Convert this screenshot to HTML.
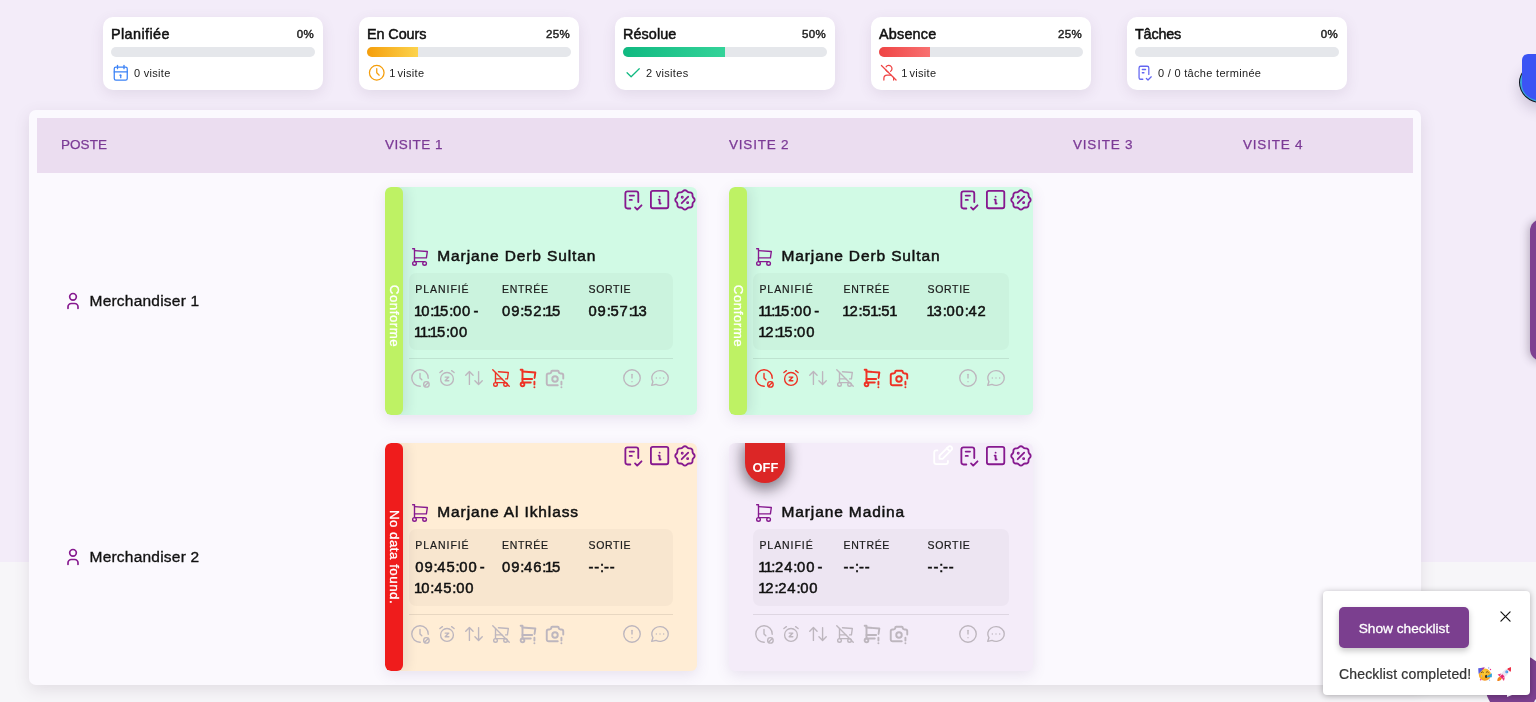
<!DOCTYPE html>
<html lang="fr">
<head>
<meta charset="utf-8">
<title>Visites</title>
<style>
*{box-sizing:border-box;margin:0;padding:0}
html,body{width:1536px;height:702px;overflow:hidden}
body{font-family:"Liberation Sans",sans-serif;background:#f3ecf9;position:relative;color:#111;will-change:transform}
.abs{position:absolute}
.bottombg{position:absolute;left:0;top:562px;width:1536px;height:140px;background:#f7f6f9}
/* stat cards */
.stat{position:absolute;top:17px;width:220px;height:73px;background:#fff;border-radius:10px;box-shadow:0 4px 14px rgba(95,65,100,.11)}
.stat .t{position:absolute;left:8px;top:9.1px;font-size:14.4px;font-weight:400;-webkit-text-stroke:.5px #111;color:#111;letter-spacing:.12px;line-height:17px;white-space:nowrap}
.stat .p{position:absolute;right:9px;top:10px;font-size:11.5px;font-weight:400;-webkit-text-stroke:.45px #222;color:#222;line-height:15px;letter-spacing:.3px}
.stat .bar{position:absolute;left:8px;top:30px;width:204px;height:10px;border-radius:5px;background:#e5e7eb;overflow:hidden}
.stat .bar i{display:block;height:100%}
.stat .l b{font-weight:400;letter-spacing:-1.3px;margin-left:-.7px}
.stat .ic{position:absolute;left:7.8px;top:45.7px;width:19.5px;height:19.5px}
.stat .ic svg{width:19.5px;height:19.5px;stroke-width:1.55}
.stat .l{position:absolute;left:31px;top:49px;font-size:11px;color:#222;line-height:14px;letter-spacing:.3px;white-space:nowrap}
svg{display:block;fill:none;stroke:currentColor;stroke-width:1.6;stroke-linecap:round;stroke-linejoin:round}
/* panel */
.panel{position:absolute;left:29px;top:110px;width:1392px;height:575px;background:#fbf9fe;border-radius:7px;box-shadow:0 5px 16px rgba(85,60,85,.13)}
.thead{position:absolute;left:37px;top:118px;width:1376px;height:55px;background:#ebddf0}
.th{position:absolute;top:137px;font-size:13.5px;letter-spacing:1.1px;color:#7b3a96;-webkit-text-stroke:.25px #7b3a96;line-height:16px;white-space:nowrap}
.poste{position:absolute;left:63px;height:20px;display:flex;align-items:center;font-size:15.5px;color:#111;letter-spacing:.22px;white-space:nowrap}
.poste svg{width:20px;height:20px;color:#86198f;margin-right:6.5px;stroke-width:2}
.poste span{font-weight:400;-webkit-text-stroke:.33px #111}
/* visit card */
.vc{position:absolute;height:228px;border-radius:6px;box-shadow:0 4px 14px rgba(100,70,130,.13);overflow:hidden}
.vc .stripe{position:absolute;left:0;top:0;width:18px;height:100%;border-radius:6px;box-shadow:3px 0 13px rgba(40,40,60,.11)}
.vc .stripe span{position:absolute;left:9.1px;top:50%;transform:translate(-50%,-50%) rotate(90deg);white-space:nowrap;color:#fff;font-size:13.3px;font-weight:400;-webkit-text-stroke:.32px #fff;letter-spacing:.5px}
.vc .top{position:absolute;top:0;right:0;width:110px;height:28px;color:#86198f}
.vc .top svg{position:absolute}
.vc .name{position:absolute;top:59.6px;font-size:15.5px;font-weight:400;-webkit-text-stroke:.52px #111;color:#111;line-height:20px;white-space:nowrap;letter-spacing:.88px}
.vc .cart{position:absolute;top:59px;width:22px;height:22px;color:#86198f}
.vc .cart svg{width:22px;height:22px;stroke-width:1.5}
.vc .box{position:absolute;top:86px;height:77px;border-radius:7px;background:rgba(0,0,0,.027)}
.vc .lab{position:absolute;top:96px;font-size:10.5px;letter-spacing:.95px;color:#1a1a1a;line-height:12px;-webkit-text-stroke:.2px #1a1a1a;white-space:nowrap}
.vc .val{position:absolute;top:114px;font-size:14.8px;font-weight:400;-webkit-text-stroke:.5px #111;color:#111;line-height:21px;white-space:nowrap;letter-spacing:.86px}
.vc .val s{text-decoration:none;letter-spacing:-1.9px}
.vc .val b{font-weight:400;letter-spacing:-1.1px;margin-left:-1.2px}
.vc .val i{font-style:normal;letter-spacing:-.31px}
.vc .hr{position:absolute;top:171px;height:1px;background:rgba(0,0,0,.09)}
.vc .acts{position:absolute;top:180px;display:flex;gap:5px;color:#bdb6be}
.vc .acts svg{width:22px;height:22px;stroke-width:1.5}
.vc .acts2{position:absolute;top:180px;display:flex;gap:6px;color:#bdb6be}
.vc .acts2 svg{width:22px;height:22px;stroke-width:1.5}
.red{color:#ee3124}

.off{position:absolute;left:16px;top:0;width:40px;height:40px;background:#dc2626;border-radius:0 0 20px 20px;color:#fff;font-size:12.9px;font-weight:700;text-align:center;line-height:14px;padding-top:18.3px;padding-left:.8px;box-shadow:0 4px 14px 3px rgba(10,5,15,.46)}
.blob2{position:absolute;left:1519px;top:62px;width:44px;height:41px;border-radius:50%;background:#3aa6d8;border:1.6px solid #10131c;box-shadow:0 6px 14px rgba(60,40,90,.22)}
.blob{position:absolute;left:1522px;top:54px;width:30px;height:46px;border-radius:6px 0 0 16px;background:#3b54f4;z-index:2}
.sidetab{position:absolute;left:1530px;top:218.5px;width:24px;height:142.5px;border-radius:12px;background:#7e4191;box-shadow:-2px 1px 8px rgba(60,40,70,.30)}
.fab{position:absolute;left:1484.5px;top:654px;width:62px;height:62px;border-radius:50%;background:#7d4090}
.corner{position:absolute;left:1533.5px;top:697.5px;width:6px;height:8px;background:#f1edf5;border-radius:5px 0 0 0}
.sliver{position:absolute;left:1506.5px;top:694.5px;width:0;height:0;border-left:0 solid transparent;border-right:5px solid transparent;border-top:2.6px solid #ece8f0;z-index:1}
.pop{position:absolute;left:1323px;top:591px;width:207px;height:104px;background:#fff;border-radius:4px;box-shadow:0 1px 6px rgba(0,0,0,.30)}
.pop .btn{position:absolute;left:16px;top:16px;width:130px;height:41px;border-radius:5px;background:#7b3f8f;color:#fff;font-size:13.7px;-webkit-text-stroke:.3px #fff;line-height:43px;text-align:center;box-shadow:0 3px 6px rgba(0,0,0,.22)}
.pop .x{position:absolute;left:177px;top:20px;width:11px;height:11px;color:#111;stroke-width:1.3}
.pop .done{position:absolute;left:16px;top:75px;font-size:14px;color:#333;-webkit-text-stroke:.22px #333;line-height:16px;white-space:nowrap;letter-spacing:.16px}
.pop .em1{position:absolute;left:155px;top:75.8px;width:14.2px;height:14.2px}
.pop .em2{position:absolute;left:173.8px;top:75.8px;width:14.2px;height:14.2px}
</style>
</head>
<body>

<svg width="0" height="0" style="position:absolute"><defs>
<symbol id="i-checklist" viewBox="0 0 24 24"><path d="M9.615 20h-2.615a2 2 0 0 1 -2 -2v-12a2 2 0 0 1 2 -2h8a2 2 0 0 1 2 2v8"/><path d="M14 19l2 2l4 -4"/><path d="M9 8h4"/><path d="M9 12h2"/></symbol>
<symbol id="i-info" viewBox="0 0 24 24"><path d="M12 9h.01"/><path d="M3 5a2 2 0 0 1 2 -2h14a2 2 0 0 1 2 2v14a2 2 0 0 1 -2 2h-14a2 2 0 0 1 -2 -2v-14z"/><path d="M11 12h1v4h1"/></symbol>
<symbol id="i-rosette" viewBox="0 0 24 24"><path d="M9 15l6 -6"/><circle cx="9.5" cy="9.5" r=".5" fill="currentColor"/><circle cx="14.5" cy="14.5" r=".5" fill="currentColor"/><path d="M5 7.2a2.2 2.2 0 0 1 2.2 -2.2h1a2.2 2.2 0 0 0 1.55 -.64l.7 -.7a2.2 2.2 0 0 1 3.12 0l.7 .7a2.2 2.2 0 0 0 1.55 .64h1a2.2 2.2 0 0 1 2.2 2.2v1a2.2 2.2 0 0 0 .64 1.55l.7 .7a2.2 2.2 0 0 1 0 3.12l-.7 .7a2.2 2.2 0 0 0 -.64 1.55v1a2.2 2.2 0 0 1 -2.2 2.2h-1a2.2 2.2 0 0 0 -1.55 .64l-.7 .7a2.2 2.2 0 0 1 -3.12 0l-.7 -.7a2.2 2.2 0 0 0 -1.55 -.64h-1a2.2 2.2 0 0 1 -2.2 -2.2v-1a2.2 2.2 0 0 0 -.64 -1.55l-.7 -.7a2.2 2.2 0 0 1 0 -3.12l.7 -.7a2.2 2.2 0 0 0 .64 -1.55v-1"/></symbol>
<symbol id="i-cart" viewBox="0 0 24 24"><circle cx="6" cy="19" r="2"/><circle cx="17" cy="19" r="2"/><path d="M17 17h-11v-14h-2"/><path d="M6 5l14 1l-1 7h-13"/></symbol>
<symbol id="i-clockcancel" viewBox="0 0 24 24"><path d="M20.997 12.25a9 9 0 1 0 -8.718 8.745"/><circle cx="19" cy="19" r="3"/><path d="M17 21l4 -4"/><path d="M12 7v5l2 2"/></symbol>
<symbol id="i-snooze" viewBox="0 0 24 24"><circle cx="12" cy="13" r="7"/><path d="M10 11h4l-4 4h4"/><path d="M7 4l-2.75 2"/><path d="M17 4l2.75 2"/></symbol>
<symbol id="i-updown" viewBox="0 0 24 24"><path d="M3 9l4 -4l4 4m-4 -4v14"/><path d="M21 15l-4 4l-4 -4m4 4v-14"/></symbol>
<symbol id="i-cartoff" viewBox="0 0 24 24"><circle cx="6" cy="19" r="2"/><circle cx="17" cy="19" r="2"/><path d="M17 17h-11v-11"/><path d="M9.239 5.231l10.761 .769l-1 7h-2m-4 0h-7"/><path d="M3 3l18 18"/></symbol>
<symbol id="i-cartex" viewBox="0 0 24 24"><circle cx="6" cy="19" r="2"/><path d="M15 17h-9v-14h-2"/><path d="M6 5l14 1l-.854 5.976m-2.646 1.024h-10.5"/><path d="M19 16v3"/><path d="M19 22v.01"/></symbol>
<symbol id="i-camex" viewBox="0 0 24 24"><path d="M15 20h-10a2 2 0 0 1 -2 -2v-9a2 2 0 0 1 2 -2h1a2 2 0 0 0 2 -2a1 1 0 0 1 1 -1h6a1 1 0 0 1 1 1a2 2 0 0 0 2 2h1a2 2 0 0 1 2 2v3.5"/><circle cx="12" cy="13" r="3"/><path d="M19 16v3"/><path d="M19 22v.01"/></symbol>
<symbol id="i-excl" viewBox="0 0 24 24"><circle cx="12" cy="12" r="9"/><path d="M12 8v4"/><path d="M12 16v.01"/></symbol>
<symbol id="i-msg" viewBox="0 0 24 24"><path d="M3 20l1.3 -3.9c-2.324 -3.437 -1.426 -7.872 2.1 -10.374c3.526 -2.501 8.59 -2.296 11.845 .48c3.255 2.777 3.695 7.266 1.029 10.501c-2.666 3.235 -7.615 4.215 -11.574 2.293l-4.7 1"/><path d="M12 12v.01"/><path d="M8 12v.01"/><path d="M16 12v.01"/></symbol>
<symbol id="i-edit" viewBox="0 0 24 24"><path d="M7 7h-1a2 2 0 0 0 -2 2v9a2 2 0 0 0 2 2h9a2 2 0 0 0 2 -2v-1"/><path d="M20.385 6.585a2.1 2.1 0 0 0 -2.97 -2.97l-8.415 8.385v3h3l8.385 -8.415z"/><path d="M16 5l3 3"/></symbol>
<symbol id="i-user" viewBox="0 0 24 24"><circle cx="12" cy="7" r="4"/><path d="M6 21v-2a4 4 0 0 1 4 -4h4a4 4 0 0 1 4 4v2"/></symbol>
<symbol id="i-cal" viewBox="0 0 24 24"><path d="M4 7a2 2 0 0 1 2 -2h12a2 2 0 0 1 2 2v12a2 2 0 0 1 -2 2h-12a2 2 0 0 1 -2 -2z"/><path d="M16 3v4"/><path d="M8 3v4"/><path d="M4 11h16"/><path d="M11 15h1"/><path d="M12 15v3"/></symbol>
<symbol id="i-clock" viewBox="0 0 24 24"><circle cx="12" cy="12" r="9"/><path d="M12 7v5l3 3"/></symbol>
<symbol id="i-check" viewBox="0 0 24 24"><path d="M5 12l5 5l10 -10"/></symbol>
<symbol id="i-useroff" viewBox="0 0 24 24"><path d="M8.18 8.189a4.01 4.01 0 0 0 2.616 2.627m3.507 -.545a4 4 0 1 0 -5.59 -5.552"/><path d="M6 21v-2a4 4 0 0 1 4 -4h4c.412 0 .81 .062 1.183 .178m2.633 2.618c.12 .38 .184 .785 .184 1.204v2"/><path d="M3 3l18 18"/></symbol>
</defs></svg>
<div class="bottombg"></div>
<div class="stat" style="left:103px"><div class="t" style="letter-spacing:0.4px">Planifiée</div><div class="p">0%</div><div class="bar"></div><div class="ic" style="color:#3b82f6"><svg viewBox="0 0 24 24"><use href="#i-cal"/></svg></div><div class="l">0 visite</div></div>
<div class="stat" style="left:359px"><div class="t" style="letter-spacing:-0.08px">En Cours</div><div class="p">25%</div><div class="bar"><i style="width:25%;background:linear-gradient(90deg,#f59e0b,#fcd34d)"></i></div><div class="ic" style="color:#f59e0b"><svg viewBox="0 0 24 24"><use href="#i-clock"/></svg></div><div class="l"><b>1</b> visite</div></div>
<div class="stat" style="left:615px"><div class="t" style="letter-spacing:0.08px">Résolue</div><div class="p">50%</div><div class="bar"><i style="width:50%;background:linear-gradient(90deg,#10b981,#34d399)"></i></div><div class="ic" style="color:#10b981"><svg viewBox="0 0 24 24"><use href="#i-check"/></svg></div><div class="l">2 visites</div></div>
<div class="stat" style="left:871px"><div class="t" style="letter-spacing:0.2px">Absence</div><div class="p">25%</div><div class="bar"><i style="width:25%;background:linear-gradient(90deg,#ef4444,#f87171)"></i></div><div class="ic" style="color:#ef4444"><svg viewBox="0 0 24 24"><use href="#i-useroff"/></svg></div><div class="l"><b>1</b> visite</div></div>
<div class="stat" style="left:1127px"><div class="t" style="letter-spacing:-0.2px">Tâches</div><div class="p">0%</div><div class="bar"></div><div class="ic" style="color:#6366f1"><svg viewBox="0 0 24 24"><use href="#i-checklist"/></svg></div><div class="l">0 / 0 tâche terminée</div></div>
<div class="blob"></div><div class="blob2"></div>
<div class="sidetab"></div>
<div class="panel"></div><div class="thead"></div>
<div class="th" style="left:61px;letter-spacing:0.05px">POSTE</div>
<div class="th" style="left:385px;letter-spacing:0.5px">VISITE 1</div>
<div class="th" style="left:729px;letter-spacing:0.8px">VISITE 2</div>
<div class="th" style="left:1073px;letter-spacing:0.8px">VISITE 3</div>
<div class="th" style="left:1243px;letter-spacing:0.8px">VISITE 4</div>
<div class="poste" style="top:291px"><svg viewBox="0 0 24 24"><use href="#i-user"/></svg><span>Merchandiser 1</span></div>
<div class="poste" style="top:547px"><svg viewBox="0 0 24 24"><use href="#i-user"/></svg><span>Merchandiser 2</span></div>
<div class="vc" style="left:384.8px;top:186.8px;width:312.2px;background:#d1fae5"><div class="stripe" style="background:#bef264"><span style="margin-top:15.5px;">Conforme</span></div><div class="top"><svg style="right:51px;top:-.15px;width:25.8px;height:25.8px;stroke-width:1.7" viewBox="0 0 24 24"><use href="#i-checklist"/></svg><svg style="right:26.1px;top:1.6px;width:23.2px;height:23.2px;stroke-width:1.9" viewBox="0 0 24 24"><use href="#i-info"/></svg><svg style="right:-.8px;top:-.05px;width:25.9px;height:25.9px;stroke-width:1.7" viewBox="0 0 24 24"><use href="#i-rosette"/></svg></div><div class="cart" style="left:24px"><svg viewBox="0 0 24 24"><use href="#i-cart"/></svg></div><div class="name" style="left:52.5px">Marjane Derb Sultan</div><div class="box" style="left:24px;width:264px"></div><div class="lab" style="left:30.5px">PLANIFIÉ</div><div class="val" style="left:30.5px"><b>1</b>0<i>:</i><b>1</b>5<i>:</i>00<s> -</s><br><b>1</b><b>1</b><i>:</i><b>1</b>5<i>:</i>00</div><div class="lab" style="left:117.3px;letter-spacing:.64px">ENTRÉE</div><div class="val" style="left:117.3px">09<i>:</i>52<i>:</i><b>1</b>5</div><div class="lab" style="left:203.7px;letter-spacing:.64px">SORTIE</div><div class="val" style="left:203.7px">09<i>:</i>57<i>:</i><b>1</b>3</div><div class="hr" style="left:24px;width:264px"></div><div class="acts" style="left:24px"><svg viewBox="0 0 24 24"><use href="#i-clockcancel"/></svg><svg viewBox="0 0 24 24"><use href="#i-snooze"/></svg><svg viewBox="0 0 24 24"><use href="#i-updown"/></svg><svg class="red" viewBox="0 0 24 24"><use href="#i-cartoff"/></svg><svg class="red" style="stroke-width:2.1" viewBox="0 0 24 24"><use href="#i-cartex"/></svg><svg style="stroke-width:2.1" viewBox="0 0 24 24"><use href="#i-camex"/></svg></div><div class="acts2" style="left:236px"><svg viewBox="0 0 24 24"><use href="#i-excl"/></svg><svg viewBox="0 0 24 24"><use href="#i-msg"/></svg></div></div>
<div class="vc" style="left:729px;top:186.8px;width:304px;background:#d1fae5"><div class="stripe" style="background:#bef264"><span style="margin-top:15.5px;">Conforme</span></div><div class="top"><svg style="right:51px;top:-.15px;width:25.8px;height:25.8px;stroke-width:1.7" viewBox="0 0 24 24"><use href="#i-checklist"/></svg><svg style="right:26.1px;top:1.6px;width:23.2px;height:23.2px;stroke-width:1.9" viewBox="0 0 24 24"><use href="#i-info"/></svg><svg style="right:-.8px;top:-.05px;width:25.9px;height:25.9px;stroke-width:1.7" viewBox="0 0 24 24"><use href="#i-rosette"/></svg></div><div class="cart" style="left:24px"><svg viewBox="0 0 24 24"><use href="#i-cart"/></svg></div><div class="name" style="left:52.5px">Marjane Derb Sultan</div><div class="box" style="left:24px;width:256px"></div><div class="lab" style="left:30.4px">PLANIFIÉ</div><div class="val" style="left:30.4px"><b>1</b><b>1</b><i>:</i><b>1</b>5<i>:</i>00<s> -</s><br><b>1</b>2<i>:</i><b>1</b>5<i>:</i>00</div><div class="lab" style="left:114.5px;letter-spacing:.64px">ENTRÉE</div><div class="val" style="left:114.5px"><b>1</b>2<i>:</i>5<b>1</b><i>:</i>5<b>1</b></div><div class="lab" style="left:198.6px;letter-spacing:.64px">SORTIE</div><div class="val" style="left:198.6px"><b>1</b>3<i>:</i>00<i>:</i>42</div><div class="hr" style="left:24px;width:256px"></div><div class="acts" style="left:24px"><svg class="red" viewBox="0 0 24 24"><use href="#i-clockcancel"/></svg><svg class="red" viewBox="0 0 24 24"><use href="#i-snooze"/></svg><svg viewBox="0 0 24 24"><use href="#i-updown"/></svg><svg viewBox="0 0 24 24"><use href="#i-cartoff"/></svg><svg class="red" style="stroke-width:2.1" viewBox="0 0 24 24"><use href="#i-cartex"/></svg><svg class="red" style="stroke-width:2.1" viewBox="0 0 24 24"><use href="#i-camex"/></svg></div><div class="acts2" style="left:228px"><svg viewBox="0 0 24 24"><use href="#i-excl"/></svg><svg viewBox="0 0 24 24"><use href="#i-msg"/></svg></div></div>
<div class="vc" style="left:384.8px;top:442.8px;width:312.2px;background:#ffedd5"><div class="stripe" style="background:#ef1c1c"><span style="">No data found.</span></div><div class="top"><svg style="right:51px;top:-.15px;width:25.8px;height:25.8px;stroke-width:1.7" viewBox="0 0 24 24"><use href="#i-checklist"/></svg><svg style="right:26.1px;top:1.6px;width:23.2px;height:23.2px;stroke-width:1.9" viewBox="0 0 24 24"><use href="#i-info"/></svg><svg style="right:-.8px;top:-.05px;width:25.9px;height:25.9px;stroke-width:1.7" viewBox="0 0 24 24"><use href="#i-rosette"/></svg></div><div class="cart" style="left:24px"><svg viewBox="0 0 24 24"><use href="#i-cart"/></svg></div><div class="name" style="left:52.5px">Marjane Al Ikhlass</div><div class="box" style="left:24px;width:264px"></div><div class="lab" style="left:30.5px">PLANIFIÉ</div><div class="val" style="left:30.5px">09<i>:</i>45<i>:</i>00<s> -</s><br><b>1</b>0<i>:</i>45<i>:</i>00</div><div class="lab" style="left:117.3px;letter-spacing:.64px">ENTRÉE</div><div class="val" style="left:117.3px">09<i>:</i>46<i>:</i><b>1</b>5</div><div class="lab" style="left:203.7px;letter-spacing:.64px">SORTIE</div><div class="val" style="left:203.7px">--<i>:</i>--</div><div class="hr" style="left:24px;width:264px"></div><div class="acts" style="left:24px"><svg viewBox="0 0 24 24"><use href="#i-clockcancel"/></svg><svg viewBox="0 0 24 24"><use href="#i-snooze"/></svg><svg viewBox="0 0 24 24"><use href="#i-updown"/></svg><svg viewBox="0 0 24 24"><use href="#i-cartoff"/></svg><svg style="stroke-width:2.1" viewBox="0 0 24 24"><use href="#i-cartex"/></svg><svg style="stroke-width:2.1" viewBox="0 0 24 24"><use href="#i-camex"/></svg></div><div class="acts2" style="left:236px"><svg viewBox="0 0 24 24"><use href="#i-excl"/></svg><svg viewBox="0 0 24 24"><use href="#i-msg"/></svg></div></div>
<div class="vc" style="left:729px;top:442.8px;width:304px;background:#f4ecf9"><div class="off">OFF</div><div class="top"><svg style="color:#fff;right:77.6px;top:.5px;width:25.3px;height:25.3px;stroke-width:1.75" viewBox="0 0 24 24"><use href="#i-edit"/></svg><svg style="right:51px;top:-.15px;width:25.8px;height:25.8px;stroke-width:1.7" viewBox="0 0 24 24"><use href="#i-checklist"/></svg><svg style="right:26.1px;top:1.6px;width:23.2px;height:23.2px;stroke-width:1.9" viewBox="0 0 24 24"><use href="#i-info"/></svg><svg style="right:-.8px;top:-.05px;width:25.9px;height:25.9px;stroke-width:1.7" viewBox="0 0 24 24"><use href="#i-rosette"/></svg></div><div class="cart" style="left:24px"><svg viewBox="0 0 24 24"><use href="#i-cart"/></svg></div><div class="name" style="left:52.5px">Marjane Madina</div><div class="box" style="left:24px;width:256px"></div><div class="lab" style="left:30.4px">PLANIFIÉ</div><div class="val" style="left:30.4px"><b>1</b><b>1</b><i>:</i>24<i>:</i>00<s> -</s><br><b>1</b>2<i>:</i>24<i>:</i>00</div><div class="lab" style="left:114.5px;letter-spacing:.64px">ENTRÉE</div><div class="val" style="left:114.5px">--<i>:</i>--</div><div class="lab" style="left:198.6px;letter-spacing:.64px">SORTIE</div><div class="val" style="left:198.6px">--<i>:</i>--</div><div class="hr" style="left:24px;width:256px"></div><div class="acts" style="left:24px"><svg viewBox="0 0 24 24"><use href="#i-clockcancel"/></svg><svg viewBox="0 0 24 24"><use href="#i-snooze"/></svg><svg viewBox="0 0 24 24"><use href="#i-updown"/></svg><svg viewBox="0 0 24 24"><use href="#i-cartoff"/></svg><svg style="stroke-width:2.1" viewBox="0 0 24 24"><use href="#i-cartex"/></svg><svg style="stroke-width:2.1" viewBox="0 0 24 24"><use href="#i-camex"/></svg></div><div class="acts2" style="left:228px"><svg viewBox="0 0 24 24"><use href="#i-excl"/></svg><svg viewBox="0 0 24 24"><use href="#i-msg"/></svg></div></div>
<div class="fab"></div><div class="corner"></div>
<div class="pop"><div class="btn">Show checklist</div><svg class="x" viewBox="0 0 12 12"><path d="M1 1l10 10M11 1l-10 10"/></svg><div class="done">Checklist completed!</div><svg class="em1" viewBox="0 0 14 14" style="stroke:none"><defs><radialGradient id="fg" cx=".45" cy=".35" r=".75"><stop offset="0" stop-color="#fdd23a"/><stop offset=".7" stop-color="#f9a922"/><stop offset="1" stop-color="#ee8a2a"/></radialGradient></defs><circle cx="6.8" cy="7.6" r="6" fill="url(#fg)"/><path d="M0.2 1.2L6.6 0.6L0.6 6.8Z" fill="#5b5fe0"/><path d="M3.6 0.9L6.6 0.6L4.6 2.7Z" fill="#c2269b"/><path d="M3.2 5.4q1.1-1.5 2.2 0" stroke="#5a3a12" stroke-width=".8" fill="none"/><path d="M8 5.2q1.1-1.5 2.2 0" stroke="#5a3a12" stroke-width=".8" fill="none"/><ellipse cx="8" cy="9.3" rx="1" ry="1.6" fill="#3a230f"/><path d="M8.6 9.2L13.8 6.2L13.6 10.2L8.8 10.2Z" fill="#2fa4dc"/><rect x="3" y="8" width=".8" height="1.8" fill="#9fb4d9"/><circle cx="12.3" cy="2.4" r=".7" fill="#ec2b8c"/><circle cx="10.6" cy=".9" r=".55" fill="#5f86f2"/><circle cx="2.6" cy="12.6" r=".8" fill="#f03a9a"/><circle cx="11.4" cy="13" r=".6" fill="#8fb8f5"/></svg><svg class="em2" viewBox="0 0 14 14" style="stroke:none"><path d="M0.4 13.8q-.6-3 2.4-4.4l2 2q-1.4 2.8-4.4 2.4z" fill="#f0851c"/><path d="M3 9.2Q5 3 12.6 .4Q13.6 1 13.8 1.6Q11 9 4.9 11.2Z" fill="#ece4f1"/><path d="M7.5 5.4Q10 1.6 13.6 .3Q14 2.6 13.2 4.4Q10.8 2.6 9.9 2.8Z" fill="#f03a4e" transform="translate(0.2 0)"/><path d="M10.3 1.5Q12.3 .5 13.7 .3Q14 2.8 13 4.9Q12.2 2.9 10.3 1.5Z" fill="#ee2e45"/><circle cx="9.6" cy="4.9" r="1.35" fill="#3c8de6"/><circle cx="9.6" cy="4.9" r=".7" fill="#6fc0f5"/><path d="M4.2 6.4L.6 7.4L2.6 9.4Z" fill="#f0387c"/><path d="M7.8 10L6.8 13.8L4.9 11.4Z" fill="#f0387c"/><path d="M2.8 9.2L5.4 7.2L7.4 9.4L5 11.6Z" fill="#e9256e"/></svg></div>
<div class="sliver"></div>
</body></html>
